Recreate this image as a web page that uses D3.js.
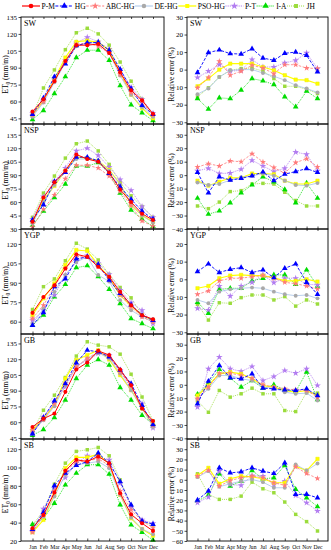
<!DOCTYPE html>
<meta charset="utf-8">
<style>
body { margin: 0; background: #fff; }
text { font-family: "Liberation Serif", "Times New Roman", serif; fill: #000; }
.frame { fill: none; stroke: #000; stroke-width: 0.9px; }
.axis path { display: none; }
.axis line { stroke: #000; stroke-width: 0.7px; }
</style>
<body>
<script src="https://d3js.org/d3.v7.min.js"></script>
<script>

var width = 331, height = 550;

var months = ["Jan","Feb","Mar","Apr","May","Jun","Jul","Aug","Sep","Oct","Nov","Dec"];
var models = ["P-M","HG","ABC-HG","DE-HG","PSO-HG","P-T","I-A","JH"];
var regions = ["SW","NSP","YGP","GB","SB"];

// ET0 (mm/m), rows in model order: P-M, HG, ABC-HG, DE-HG, PSO-HG, P-T, I-A, JH
var etSW = [
  [51, 62, 78, 96, 110, 110, 111, 103, 86, 70, 61, 49],
  [48.5, 63, 82, 93.5, 109.5, 112, 112.5, 105.5, 88.5, 71.5, 56.5, 48.5],
  [48, 60, 78.5, 94.5, 110.5, 112, 109, 103, 84, 68, 59, 48],
  [46.5, 59, 77, 94.5, 109, 112, 112, 103, 83, 66, 55, 46.5],
  [48, 61, 80, 99, 113, 114, 112.5, 105.5, 86, 66, 54, 45],
  [49.5, 60, 80, 96.5, 112, 117, 113, 106.5, 88.5, 72.5, 62, 49.5],
  [44, 52, 67, 82, 99, 105.5, 105.5, 96.5, 74, 57, 50, 43],
  [47, 72, 88, 106, 121, 125, 120, 110, 95, 78, 62, 47.5]
];
var etNSP = [
  [38, 65, 82, 95, 113, 108, 105, 93, 74, 60, 47, 40],
  [40, 57, 83, 93, 110, 110, 106, 92, 77, 63, 50, 41],
  [32, 52, 68, 86, 101, 101, 98, 89, 72, 56, 39, 33],
  [36, 60, 79, 95, 108, 108, 106, 95, 80, 58, 45, 37],
  [38, 62, 78, 95, 110, 109, 106, 96, 80, 57, 45, 38],
  [41, 66, 83, 98, 117, 120, 112, 99, 85, 73, 55, 43],
  [34, 50, 65, 80, 100, 100, 104, 92, 70, 51, 41, 33],
  [43, 70, 89, 109, 125, 128, 117, 102, 82, 67, 55, 43]
];
var etYGP = [
  [66.8, 79, 88, 101, 112, 110, 102.4, 94.7, 83, 72.7, 65, 61.9],
  [57.2, 67, 87, 93, 108.4, 110, 104, 92, 81.8, 73, 65, 61],
  [62.4, 72.7, 87, 101, 110, 110, 102.4, 93.4, 80.5, 71.4, 63.7, 59.8],
  [58.5, 70, 83, 96, 106, 110, 96, 91, 76.6, 68.8, 63.7, 59.8],
  [65, 78, 89.5, 103.7, 115.3, 114.6, 103.7, 94, 80.5, 72.2, 65, 61],
  [61, 68.8, 80.5, 96, 106.3, 111, 105, 96.5, 84.3, 74.8, 68.8, 58.5],
  [57.2, 65, 79.2, 88.7, 101.7, 103.2, 94.7, 85, 74, 62.4, 58.5, 54.6],
  [69.4, 87, 93, 107, 120.5, 116, 107.6, 96.5, 86.4, 78.4, 65, 61.6]
];
var etGB = [
  [55.5, 63.4, 68.2, 88.9, 110.2, 116.9, 128, 123.9, 110.2, 95.2, 73, 61.2],
  [49, 64.4, 80.3, 96.8, 116.6, 128.6, 127, 122.3, 109.6, 96.8, 76, 57.7],
  [52.3, 62.5, 77.7, 96.8, 112.7, 120.7, 127, 122.3, 108, 94.3, 74.6, 57],
  [50.7, 61.8, 75.2, 95.2, 112.7, 120.7, 126, 120.7, 106.4, 90.5, 73, 55.5],
  [52.3, 63.4, 76.2, 101.6, 119.1, 123.9, 128.6, 119.7, 104.8, 90.5, 73, 57],
  [49, 65, 79.3, 93.7, 113.4, 119, 125.5, 123.9, 109.6, 92, 77.7, 54.5],
  [47.5, 53, 64.4, 81, 101.6, 114.3, 119.7, 114.3, 93, 81, 66.6, 58],
  [51.3, 71.4, 85.7, 102.6, 123, 136.6, 133.4, 131.8, 124.8, 105.7, 84, 61.2]
];
var etSB = [
  [33.8, 48.4, 72.7, 96.4, 108.4, 106.5, 112, 104.7, 72, 49, 39.3, 31],
  [32.7, 51.3, 80.4, 93.8, 102.2, 106.5, 115.6, 104.7, 84.7, 59.3, 41.8, 38.2],
  [29.5, 48.4, 74.5, 96.4, 105.8, 107.3, 109.5, 102.2, 74.5, 53.8, 41.8, 34.5],
  [30.2, 46.5, 68.4, 92, 103, 104.7, 106.5, 99.3, 70.2, 45.5, 33, 27.3],
  [29.5, 43, 70.2, 99.3, 111, 111, 114.5, 103.6, 70.2, 44.7, 33, 25.8],
  [30.2, 55, 77.5, 89, 104.7, 112.7, 111, 108.4, 83, 56.4, 42.9, 39.3],
  [38.2, 44.7, 61, 81, 93.8, 103, 103, 92.7, 59.3, 37.5, 29.5, 21],
  [37.5, 52.7, 81.8, 104.7, 117.5, 119.3, 121.8, 112.7, 86.5, 58.5, 41, 37.5]
];

// relative error (%), rows: HG, ABC-HG, DE-HG, PSO-HG, P-T, I-A, JH
var reSW = [
  [-1.7, 9.7, 11.2, 9.1, 8.9, 11.9, 6.6, 5.3, 9.3, 10, 8.1, -1.3],
  [-10.4, -4.5, 4.7, -3.2, -0.9, 2.5, 0.9, -2.3, 2.8, 2.8, 0.9, 0.6],
  [-14, -10.8, -4.2, -0.4, 0, 0, -1.9, -3.8, -6, -8.9, -10.8, -13],
  [-9.5, -5.1, 0, 3.4, 3.4, 3.4, 1.5, -0.4, -3.2, -5.7, -6, -8],
  [-4.5, -0.9, 2.8, -0.9, -0.4, 5.7, 1.5, 1.5, 3.8, 5.3, 9.5, 0.6],
  [-16.5, -22.5, -16.1, -16.5, -11.7, -5.1, -6.4, -8.5, -15.5, -21.2, -12.3, -16.5],
  [-15.5, -10.4, -4.2, -0.4, 0.6, 0.9, -0.8, -5.1, -9.5, -9.5, -11.2, -13.6]
];
var reNSP = [
  [2, -13.2, -1.2, -3.7, -2.4, -0.5, 2.4, -4.1, 0.7, 2.7, 4.9, 2],
  [6.1, 8.5, 6.8, 10.5, 10, 15.9, 9.8, 5.6, 1.5, 9.3, 12.2, 6.1],
  [-5.4, -7.3, -6.6, -3.7, -1.7, -0.5, 1.2, -0.5, -4.1, -7.3, -7.8, -5.9],
  [-4.1, -7.8, -4.9, -2, -2, 1.2, 1.2, 0.7, -4.1, -6.6, -6.6, -4.1],
  [3.2, 5.1, 1.2, 1.5, 4.4, 11, 6.8, 2.7, 5.1, 17.1, 15.4, 3.2],
  [-17.1, -29, -26.6, -20.5, -13.2, -7.3, -1.2, -4.9, -10.7, -20.5, -5.9, -17.1],
  [-22.9, -24.9, -20, -12.2, -11.5, -6.6, -6.1, -6.6, -12.7, -18.8, -22.9, -22.9]
];
var reYGP = [
  [4.4, 8.7, 3.8, 5.7, 6.6, 3.8, 5.3, 0.9, 6.2, 8.7, -1.7, -8.5],
  [-8.5, -6.6, -0.9, 0.6, 0.6, 1.5, 2.1, 0.6, -1.7, -2.5, -3.8, -5.5],
  [-11.7, -13.6, -7, -5.7, -5.1, -4.7, -5.1, -7, -8.5, -9.3, -8.9, -10.8],
  [-5.1, -3.8, 0.6, 2.1, 2.5, 2.1, 2.1, 0.9, -0.9, -0.9, 0, -1.3],
  [-16.5, -17.4, -3.8, -9.5, -3.8, -1.7, 2.5, -1.9, 0.6, 0.6, -2.8, -3.2],
  [-13, -19.3, -5.7, -5.1, -5.1, -0.9, 0.6, 2.5, 2.5, -2.8, 5.3, -3.8],
  [-14.2, -23.1, -13.3, -13.6, -10.4, -8.9, -8.9, -11.7, -9.8, -15.2, -11.7, -14]
];
var reGB = [
  [-14.2, 2.7, 14.5, 5.2, 4.5, 8.2, -2.5, -3, -3.7, -4.2, -3, -8],
  [-10.5, -1.7, 8.7, 8.7, 7, 5, 0, -1.7, -3, -3.7, -4.2, -9.2],
  [-10.5, -3, 7, 7, 4.5, 3.2, -1.7, -2.5, -5.5, -6.7, -6.2, -11.7],
  [-8, -0.5, 8.2, 9.5, 8.2, 4.5, -0.5, -1.7, -4.2, -5.5, -4.2, -8],
  [-16.7, 12, 20.7, 12, 10, 13.7, 3.2, 6.2, 10.7, 8.7, 12, -0.5],
  [-7, 1.2, 11.5, 5, -1.7, 3.2, -2.5, 0, -3.7, -5, 9.5, -11],
  [-12, -20.5, -4.2, -9.2, -6.7, -2.5, -6.7, -6.7, -19.2, -20, -5.5, -6.2]
];
var reSB = [
  [-19.9, -11, 11.7, 6.8, 7.8, 11.7, 8.5, 6.2, 16.6, -14.3, -14.3, -17.6],
  [3.6, 9.4, -6.2, -0.7, 2, 3.6, 2, -2.9, -5.5, 12.7, 6.2, 1.3],
  [2.6, 8.5, -6.8, -3.9, -1.3, 0.3, -2.3, -7.8, -7.8, 15, 9.1, 16],
  [4.2, 11.7, -3.9, 1, 3.6, 2.9, 1, -2.9, -2.9, 13.4, 9.1, 20.5],
  [-22.5, -16.9, 8.5, -4.6, -5.5, 4.2, 3.6, -4.6, -1.3, -15.3, -22.5, -30.6],
  [-20.8, -15.3, 5.9, -6.2, -1.3, 9.1, 1, 2, 14, -9.4, -17.6, -26.4],
  [5.9, -14.3, -19.2, -19.2, -16, -2.3, -8.8, -12.7, -21.8, -33.9, -41, -50.2]
];

var etData = [etSW, etNSP, etYGP, etGB, etSB];
var reData = [reSW, reNSP, reYGP, reGB, reSB];

var etDomains = [[40,135],[30,147],[50.5,131.5],[44,144],[20,131]];
var etTicks = [[45,60,75,90,105,120,135],[30,45,60,75,90,105,120,135],[60,75,90,105,120],[45,60,75,90,105,120,135],[20,40,60,80,100,120]];
var reDomains = [[-31,30],[-40,38],[-31,28.5],[-40.5,38],[-60,40]];
var reTicks = [[-30,-20,-10,0,10,20,30],[-40,-30,-20,-10,0,10,20,30],[-30,-20,-10,0,10,20],[-40,-30,-20,-10,0,10,20,30],[-60,-50,-40,-30,-20,-10,0,10,20,30]];

// styles per model
var colors = ["#ff0000","#0000ff","#ff7a7a","#a8c4e8","#ffff00","#b27cf0","#00dd00","#9bdc3c"];
var markFill = ["#ff0000","#0000ff","#ff7a7a","#a9a9a9","#ffff00","#b27cf0","#00dd00","#9bdc3c"];
var dashes = [null,"3,1.5","2.5,1.5",null,null,"1.2,1","1,1","1,1"];
var lineW = [1,0.9,0.8,0.8,1.1,0.8,0.8,0.8];
var symbols = [d3.symbolCircle,d3.symbolTriangle,d3.symbolStar,d3.symbolCircle,d3.symbolSquare,d3.symbolStar,d3.symbolTriangle,d3.symbolSquare];
var symSize = [13,14,12,12,12,14,14,12];

var tops = [17,124,229,334,439], bottoms = [124,229,334,439,541];
var leftX = [21,164], rightX = [187,328];

var svg = d3.select("body").append("svg")
    .attr("width", width)
    .attr("height", height);

var xl = d3.scalePoint().domain(months).range([32.5,153]);
var xr = d3.scalePoint().domain(months).range([197.5,317.5]);

function drawSeries(g, x, y, values, m) {
  var line = d3.line()
    .x(function(d,i){ return x(months[i]); })
    .y(function(d){ return y(d); });
  g.append("path")
    .attr("d", line(values))
    .attr("fill","none")
    .attr("stroke", colors[m])
    .attr("stroke-width", lineW[m])
    .attr("stroke-dasharray", dashes[m]);
  g.selectAll(null).data(values).enter().append("path")
    .attr("d", d3.symbol().type(symbols[m]).size(symSize[m]))
    .attr("transform", function(d,i){ return "translate(" + x(months[i]) + "," + y(d) + ")"; })
    .attr("fill", markFill[m])
    .attr("stroke", m == 4 ? "#e8e800" : "none")
    .attr("stroke-width", 0.4);
}

function panel(r, side) {
  var xr0 = side == 0 ? leftX : rightX;
  var x = side == 0 ? xl : xr;
  var dom = side == 0 ? etDomains[r] : reDomains[r];
  var tv = side == 0 ? etTicks[r] : reTicks[r];
  var y = d3.scaleLinear().domain(dom).range([bottoms[r], tops[r]]);
  var g = svg.append("g");

  // series: others first, P-M last
  if (side == 0) {
    for (var m = models.length - 1; m >= 0; m--) drawSeries(g, x, y, etData[r][m], m);
  } else {
    for (var m = models.length - 1; m >= 1; m--) drawSeries(g, x, y, reData[r][m-1], m);
  }

  g.append("rect").attr("class","frame")
    .attr("x", xr0[0]).attr("y", tops[r])
    .attr("width", xr0[1]-xr0[0]).attr("height", bottoms[r]-tops[r]);

  g.append("g").attr("class","axis")
    .attr("transform","translate(" + xr0[0] + ",0)")
    .call(d3.axisLeft(y).tickValues(tv).tickSize(2.5).tickPadding(1.5))
    .selectAll("text").style("font-size","7px");

  g.append("g").attr("class","axis")
    .attr("transform","translate(0," + bottoms[r] + ")")
    .call(d3.axisBottom(x).tickSize(-2.5).tickPadding(4)
      .tickFormat(r == 4 ? null : ""))
    .selectAll("text").style("font-size","5.6px");
  g.append("g").attr("class","axis")
    .attr("transform","translate(0," + tops[r] + ")")
    .call(d3.axisTop(x).tickSize(-2).tickFormat(""));

  g.append("text")
    .attr("x", xr0[0] + 3).attr("y", tops[r] + 9)
    .style("font-size","8px")
    .text(regions[r]);

  var cy = (tops[r] + bottoms[r]) / 2 + 4;
  if (side == 0) {
    var t = g.append("text")
      .attr("transform","translate(8," + cy + ") rotate(-90)")
      .attr("text-anchor","middle")
      .style("font-size","7.5px");
    t.append("tspan").text("ET");
    t.append("tspan").attr("dy",1.5).style("font-size","5.5px").text("0");
    t.append("tspan").attr("dy",-1.5).text(" (mm/m)");
  } else {
    g.append("text")
      .attr("transform","translate(174," + cy + ") rotate(-90)")
      .attr("text-anchor","middle")
      .style("font-size","7.5px")
      .text("Relative error (%)");
  }
}

for (var r = 0; r < regions.length; r++) {
  panel(r, 0);
  panel(r, 1);
}

// legend
var lg = svg.append("g");
var lx = 22, ly = 6;
models.forEach(function(name, m) {
  lg.append("line")
    .attr("x1", lx).attr("x2", lx + 18)
    .attr("y1", ly).attr("y2", ly)
    .attr("stroke", colors[m])
    .attr("stroke-width", lineW[m] + 0.2)
    .attr("stroke-dasharray", dashes[m]);
  lg.append("path")
    .attr("d", d3.symbol().type(symbols[m]).size(symSize[m] + 4))
    .attr("transform","translate(" + (lx + 9) + "," + ly + ")")
    .attr("fill", markFill[m]);
  var t = lg.append("text")
    .attr("x", lx + 19.5).attr("y", ly + 2.5)
    .style("font-size","7.5px")
    .text(name);
  lx += 20 + t.node().getComputedTextLength();
});

</script>
